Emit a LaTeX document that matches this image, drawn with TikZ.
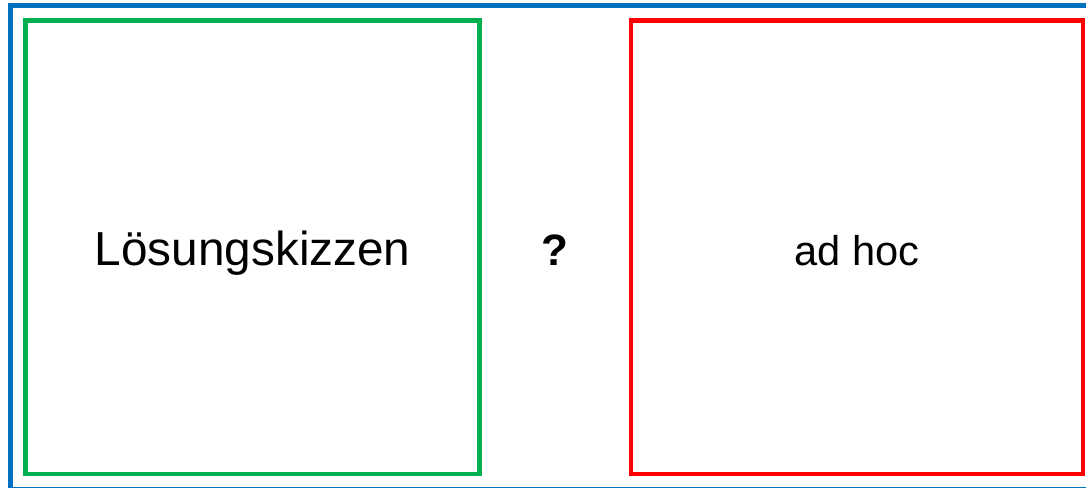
\documentclass[tikz,border=0pt]{standalone}
\usepackage{fontspec}
\setmainfont{Liberation Sans}
\usetikzlibrary{calc,positioning}
\definecolor{rahmenblau}{HTML}{0070C0}
\definecolor{gruen}{HTML}{00B050}
\definecolor{rot}{HTML}{FF0000}
\tikzset{
  frame/.style={draw=rahmenblau, line width=3.75pt},
  textline/.style={text height=26.6pt, text depth=0pt},
  greenbox/.style={draw=gruen, line width=3.4pt, minimum width=340.6pt, minimum height=340pt, inner sep=0pt, textline},
  redbox/.style={draw=rot, line width=3.4pt, minimum width=339.2pt, minimum height=340pt, inner sep=0pt, textline},
  bigtext/.style={font=\fontsize{35.8}{37}\selectfont},
  midtext/.style={font=\fontsize{31.2}{33}\selectfont}
}
\begin{document}
\begin{tikzpicture}[x=0.75pt,y=-0.75pt]
  \useasboundingbox (0,0) rectangle (1086,488);
  \clip (0,0) rectangle (1086,488);
  \draw[frame] (10.5,5.5) rectangle (1094,489.5);
  \node[greenbox,bigtext] (skizzen) at (252.6,247.3) {Lösungskizzen};
  \node[redbox,midtext] (adhoc) at (856.9,247.3) {ad hoc};
  \node[textline,inner sep=0pt,font=\bfseries\fontsize{33}{35}\selectfont] (frage) at ($(skizzen.east)!0.5!(adhoc.west)$) {?};
\end{tikzpicture}
\end{document}
